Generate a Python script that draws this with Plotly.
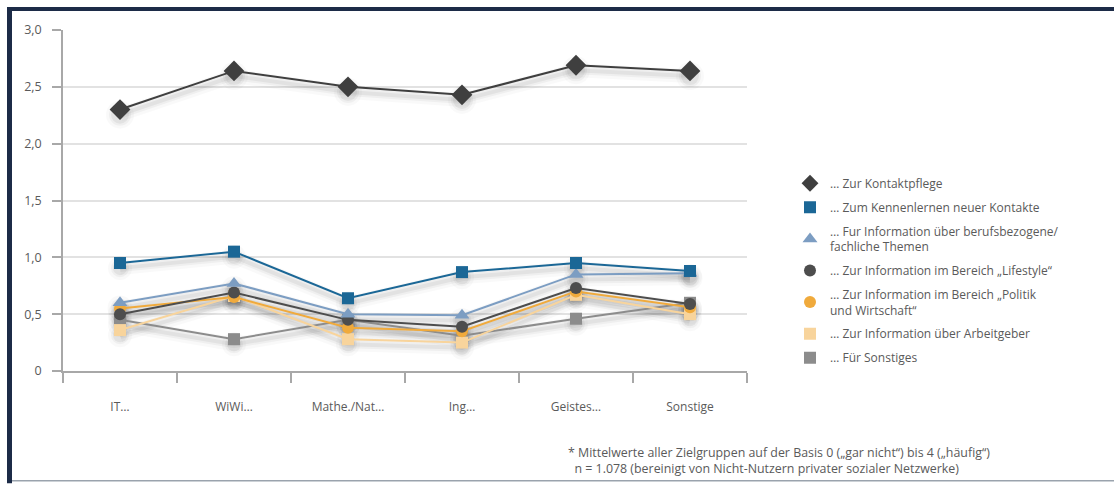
import plotly.graph_objects as go

# Categories (fields of study) and mean usage values per purpose
categories = ["IT…", "WiWi…", "Mathe./Nat…", "Ing…", "Geistes…", "Sonstige"]

kontaktpflege = [2.30, 2.64, 2.50, 2.43, 2.69, 2.64]
kennenlernen = [0.95, 1.05, 0.64, 0.87, 0.95, 0.88]
berufsbezogen = [0.60, 0.77, 0.50, 0.49, 0.85, 0.86]
lifestyle = [0.50, 0.69, 0.45, 0.39, 0.73, 0.59]
politik = [0.55, 0.65, 0.38, 0.35, 0.70, 0.56]
arbeitgeber = [0.36, 0.66, 0.28, 0.25, 0.67, 0.50]
sonstiges = [0.45, 0.28, 0.45, 0.31, 0.46, 0.60]

y_tickvals = [0, 0.5, 1.0, 1.5, 2.0, 2.5, 3.0]
y_ticktext = ["0", "0,5", "1,0", "1,5", "2,0", "2,5", "3,0"]

FONT = "Open Sans"
TEXT_COLOR = "#5a5a5a"

# name, values, colour, symbol, marker size
series = [
    ("… Zur Kontaktpflege", kontaktpflege, "#3f3f3f", "diamond", 16),
    ("… Zum Kennenlernen neuer Kontakte", kennenlernen, "#1b6796", "square", 12),
    ("… Fur Information über berufsbezogene/<br>fachliche Themen", berufsbezogen, "#7c9dc2", "triangle-up", 13),
    ("… Zur Information im Bereich „Lifestyle“", lifestyle, "#4d4d4d", "circle", 12),
    ("… Zur Information im Bereich „Politik<br>und Wirtschaft“", politik, "#f0aa3c", "circle", 12),
    ("… Zur Information über Arbeitgeber", arbeitgeber, "#f8d49c", "square", 12),
    ("… Für Sonstiges", sonstiges, "#8c8c8c", "square", 12),
]

fig = go.Figure()

# soft drop shadows beneath every line (faint layers, offset downwards)
for name, vals, color, symbol, size in series:
    shadow = [v - 0.045 for v in vals]
    for width, alpha, msize in ((14, 0.025, size + 12), (8, 0.04, size + 6), (4, 0.05, size + 2)):
        fig.add_trace(go.Scatter(
            x=categories, y=shadow, mode="lines+markers",
            line=dict(color=f"rgba(0,0,0,{alpha})", width=width),
            marker=dict(symbol="circle", size=msize, color=f"rgba(0,0,0,{alpha})"),
            showlegend=False, hoverinfo="skip",
        ))

# data lines (drawn bottom-up so the top series sits on top)
for name, vals, color, symbol, size in reversed(series):
    fig.add_trace(go.Scatter(
        x=categories, y=vals, mode="lines+markers",
        line=dict(color=color, width=2),
        marker=dict(symbol=symbol, size=size, color=color),
        showlegend=False, name=name,
    ))

# legend entries (markers only)
for i, (name, vals, color, symbol, size) in enumerate(series):
    fig.add_trace(go.Scatter(
        x=[None], y=[None], mode="markers",
        marker=dict(symbol=symbol, size=min(size, 13), color=color),
        name=name, legendgroup=f"g{i}", showlegend=True,
    ))

# plot-area geometry in pixels
L, R, T, B = 63, 747, 30, 371.5
W, H = R - L, B - T


def px(x):
    return (x - L) / W


def py(y):
    return (B - y) / H


shapes = [
    # dark frame: top and left bars
    dict(type="rect", xref="paper", yref="paper", x0=px(7), x1=px(1114), y0=py(11), y1=py(7),
         fillcolor="#1c2b47", line=dict(width=0), layer="above"),
    dict(type="rect", xref="paper", yref="paper", x0=px(7), x1=px(12), y0=py(484), y1=py(7),
         fillcolor="#1c2b47", line=dict(width=0), layer="above"),
    # thin bottom rule
    dict(type="line", xref="paper", yref="paper", x0=px(12), x1=px(1114), y0=py(481.5), y1=py(481.5),
         line=dict(color="#9aa3ad", width=1.5), layer="above"),
]

fig.update_layout(
    width=1114, height=484,
    margin=dict(l=L, r=1114 - R, t=T, b=484 - B, autoexpand=False),
    paper_bgcolor="white", plot_bgcolor="white",
    font=dict(family=FONT, size=12, color=TEXT_COLOR),
    showlegend=True,
    legend=dict(
        x=px(790), y=py(169), xanchor="left", yanchor="top",
        font=dict(family=FONT, size=12, color=TEXT_COLOR),
        traceorder="grouped", tracegroupgap=5, itemwidth=30,
        bgcolor="rgba(0,0,0,0)",
    ),
    shapes=shapes,
    annotations=[
        dict(xref="paper", yref="paper", x=px(566), y=py(443), xanchor="left", yanchor="top",
             align="left", showarrow=False,
             font=dict(family=FONT, size=12.4, color=TEXT_COLOR),
             text="* Mittelwerte aller Zielgruppen auf der Basis 0 („gar nicht“) bis 4 („häufig“)<br>"
                  "  n = 1.078 (bereinigt von Nicht-Nutzern privater sozialer Netzwerke)"),
    ],
)

fig.update_xaxes(
    type="category", range=[-0.5, 5.5],
    showgrid=False, zeroline=False,
    showline=True, linecolor="#a8a8a8", linewidth=1.5,
    ticks="outside", tickson="boundaries", ticklen=10, tickcolor="#a8a8a8", tickwidth=1.5,
    ticklabelstandoff=24,
    tickfont=dict(family=FONT, size=12, color=TEXT_COLOR),
)

fig.update_yaxes(
    range=[0, 3], tickvals=y_tickvals, ticktext=y_ticktext,
    showgrid=True, gridcolor="#e2e2e2", gridwidth=1.5,
    zeroline=False,
    showline=True, linecolor="#a8a8a8", linewidth=1.5,
    ticks="outside", ticklen=9, tickcolor="#a8a8a8", tickwidth=1.5,
    ticklabelstandoff=8,
    tickfont=dict(family=FONT, size=12.5, color=TEXT_COLOR),
)

fig.write_html("out.html")
